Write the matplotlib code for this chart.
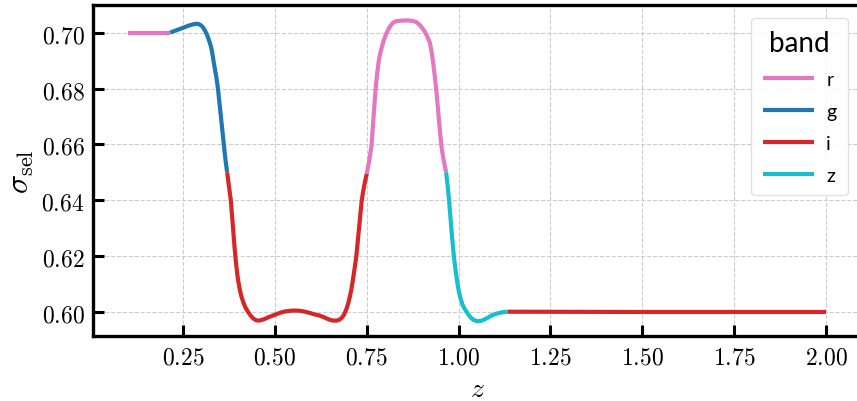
import numpy as np
import matplotlib
matplotlib.use("Agg")
import matplotlib.pyplot as plt
from matplotlib.ticker import FuncFormatter

plt.rcParams['mathtext.fontset'] = 'cm'

# colores por banda
colores = {'r': '#e377c2', 'g': '#1f77b4', 'i': '#d62728', 'z': '#17becf'}

# tramos de la curva (z, sigma_sel)
r1_z = [0.100, 0.150, 0.215]
r1_s = [0.7000, 0.7000, 0.7000]

g_z = [0.215, 0.225, 0.235, 0.245, 0.255, 0.265, 0.275, 0.282, 0.288, 0.294, 0.300, 0.306, 0.311,
       0.316, 0.320, 0.325, 0.329, 0.332, 0.336, 0.341, 0.345, 0.349, 0.353, 0.357, 0.361, 0.365, 0.370]
g_s = [0.7000, 0.7005, 0.7010, 0.7015, 0.7020, 0.7025, 0.7029, 0.7031, 0.7032, 0.7030, 0.7025, 0.7016, 0.7004,
       0.6990, 0.6975, 0.6955, 0.6932, 0.6907, 0.6875, 0.6838, 0.6800, 0.6750, 0.6700, 0.6650, 0.6600, 0.6550, 0.6500]

i1_z = [0.370, 0.375, 0.380, 0.384, 0.388, 0.391, 0.394, 0.397, 0.400, 0.404, 0.409, 0.414, 0.420, 0.427,
        0.434, 0.441, 0.448, 0.455, 0.463, 0.472, 0.482, 0.494, 0.504, 0.516, 0.528, 0.540, 0.550, 0.559,
        0.570, 0.582, 0.594, 0.606, 0.616, 0.622, 0.632, 0.642, 0.652, 0.660, 0.668, 0.675, 0.681, 0.686,
        0.690, 0.695, 0.700, 0.704, 0.708, 0.712, 0.716, 0.719, 0.722, 0.725, 0.729, 0.733, 0.736, 0.740,
        0.745, 0.750]
i1_s = [0.6500, 0.6450, 0.6400, 0.6335, 0.6268, 0.6220, 0.6178, 0.6142, 0.6113, 0.6083, 0.6055, 0.6035, 0.6016, 0.6000,
        0.5987, 0.5977, 0.5971, 0.5969, 0.5971, 0.5975, 0.5981, 0.5987, 0.5992, 0.5998, 0.6002, 0.6004, 0.6005, 0.6005,
        0.6004, 0.6001, 0.5997, 0.5992, 0.5989, 0.5987, 0.5982, 0.5976, 0.5971, 0.5969, 0.5969, 0.5972, 0.5978, 0.5986,
        0.5996, 0.6012, 0.6033, 0.6055, 0.6080, 0.6112, 0.6148, 0.6175, 0.6205, 0.6245, 0.6300, 0.6355, 0.6395, 0.6430,
        0.6465, 0.6495]

r2_z = [0.750, 0.757, 0.763, 0.768, 0.774, 0.778, 0.782, 0.786, 0.790, 0.796, 0.803, 0.810, 0.816, 0.822,
        0.830, 0.844, 0.860, 0.875, 0.885, 0.892, 0.898, 0.903, 0.908, 0.914, 0.921, 0.926, 0.931, 0.935,
        0.939, 0.943, 0.947, 0.950, 0.953, 0.957, 0.962, 0.966]
r2_s = [0.6495, 0.6545, 0.6596, 0.6690, 0.6797, 0.6850, 0.6893, 0.6922, 0.6943, 0.6972, 0.6996, 0.7015, 0.7027, 0.7036,
        0.7041, 0.7043, 0.7044, 0.7042, 0.7038, 0.7030, 0.7022, 0.7013, 0.7003, 0.6988, 0.6967, 0.6935, 0.6890, 0.6845,
        0.6797, 0.6740, 0.6680, 0.6635, 0.6596, 0.6560, 0.6525, 0.6500]

zb_z = [0.966, 0.970, 0.974, 0.978, 0.982, 0.987, 0.992, 0.997, 1.001, 1.006, 1.011, 1.016, 1.021, 1.027,
        1.033, 1.040, 1.050, 1.060, 1.070, 1.080, 1.089, 1.100, 1.112, 1.124, 1.134]
zb_s = [0.6500, 0.6452, 0.6400, 0.6335, 0.6270, 0.6200, 0.6145, 0.6100, 0.6071, 0.6045, 0.6025, 0.6012, 0.6002, 0.5990,
        0.5980, 0.5972, 0.5967, 0.5968, 0.5973, 0.5980, 0.5987, 0.5993, 0.5997, 0.6000, 0.6001]

i2_z = [1.134, 1.500, 2.000]
i2_s = [0.6001, 0.6000, 0.6000]

tramos = [('r', r1_z, r1_s), ('g', g_z, g_s), ('i', i1_z, i1_s),
          ('r', r2_z, r2_s), ('z', zb_z, zb_s), ('i', i2_z, i2_s)]

xticks = [0.25, 0.50, 0.75, 1.00, 1.25, 1.50, 1.75, 2.00]
yticks = [0.60, 0.62, 0.64, 0.66, 0.68, 0.70]

fig = plt.figure(figsize=(8.57, 4.02), dpi=100)
ax = fig.add_axes([93/857, 65/402, 768/857, 331/402])

vistos = []
for banda, zz, ss in tramos:
    etiqueta = banda if banda not in vistos else None
    vistos.append(banda)
    ax.plot(zz, ss, color=colores[banda], lw=3, label=etiqueta,
            solid_capstyle='butt', solid_joinstyle='round')

ax.set_xlim(0.005, 2.095)
ax.set_ylim(0.5914, 0.7099)
ax.set_xticks(xticks)
ax.set_yticks(yticks)
ax.xaxis.set_major_formatter(FuncFormatter(lambda v, p: r'$%.2f$' % v))
ax.yaxis.set_major_formatter(FuncFormatter(lambda v, p: r'$%.2f$' % v))
ax.tick_params(direction='in', length=8, width=2.2, labelsize=17, pad=6)
for s in ax.spines.values():
    s.set_linewidth(2.4)
ax.grid(True, color='#cccccc', linestyle='--', lw=0.8)
ax.set_axisbelow(True)

ax.set_xlabel(r'$z$', fontsize=20, labelpad=4)
ax.set_ylabel(r'$\sigma_{\rm sel}$', fontsize=23, labelpad=4)

leg = ax.legend(title='band', loc='upper right', bbox_to_anchor=(848/857, 383/402),
                bbox_transform=fig.transFigure, borderaxespad=0,
                prop={'family': 'Lato', 'size': 14}, handlelength=2.6, handletextpad=0.65,
                labelspacing=0.77, borderpad=0.6, framealpha=0.9, edgecolor='#dddddd', fancybox=True)
leg.get_title().set_fontfamily('Lato')
leg.get_title().set_fontsize(20)

fig.savefig('out.png', dpi=100)
